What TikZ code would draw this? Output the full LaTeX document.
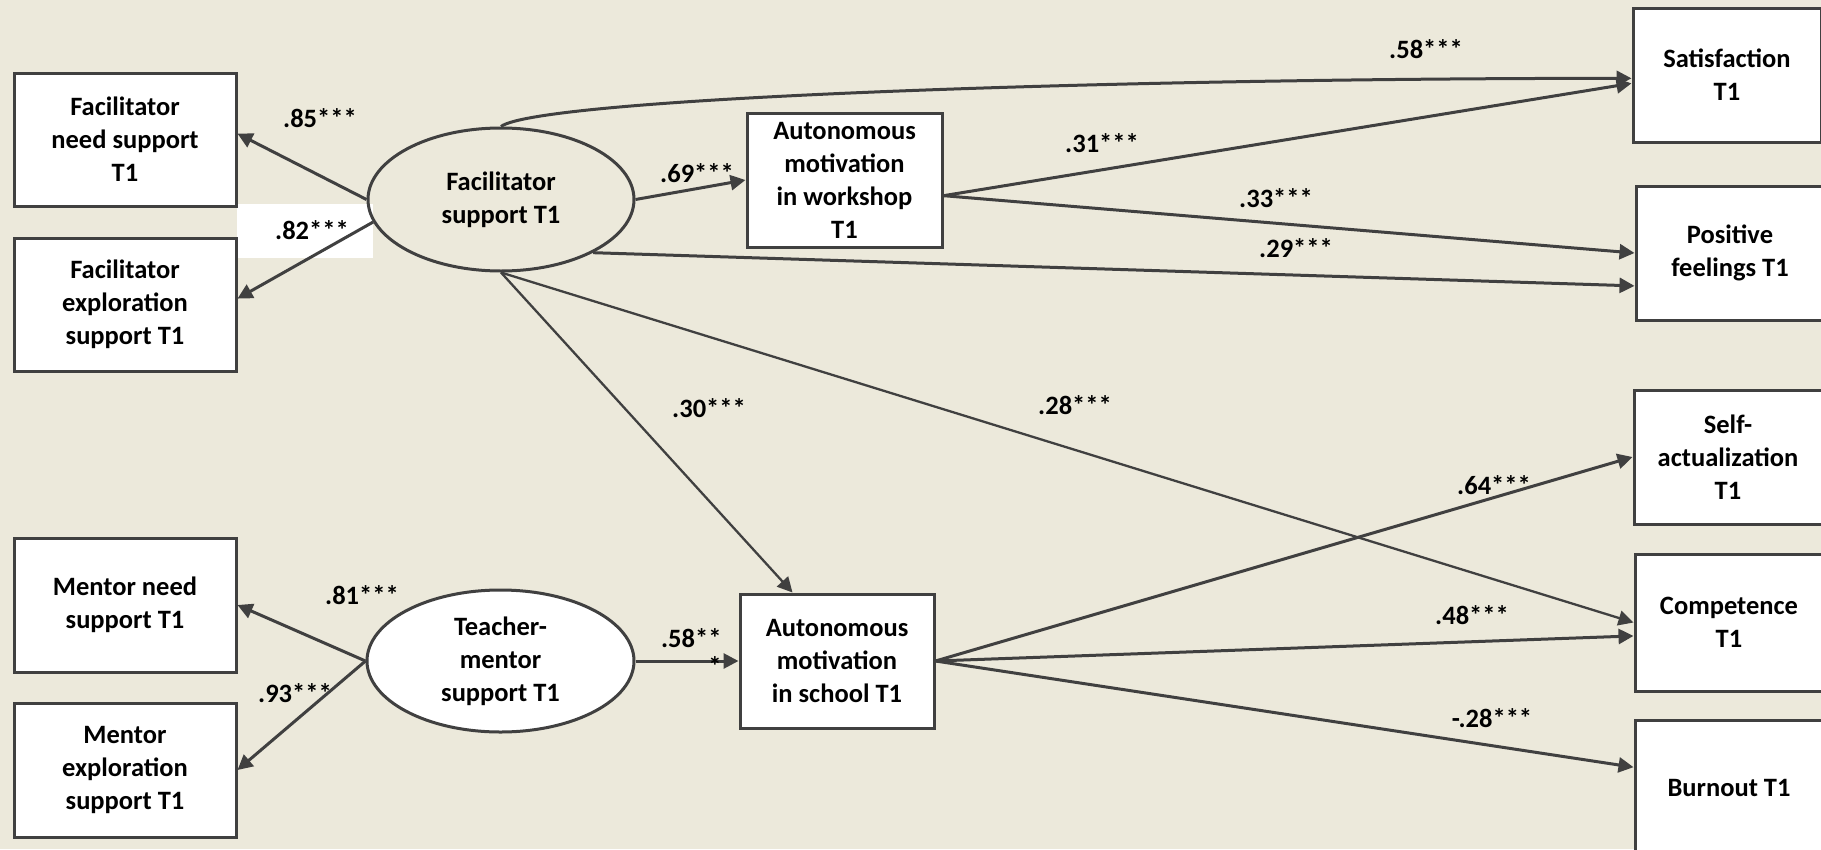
\documentclass[tikz,border=0pt]{standalone}
\usepackage{fontspec}
\setmainfont{Carlito}
\usetikzlibrary{arrows.meta,shapes.geometric}

\definecolor{bgbeige}{RGB}{236,233,219}
\definecolor{linegray}{RGB}{64,64,64}

\tikzset{every picture/.style={line width=3pt}}
\tikzset{
  txt/.style={font=\fontsize{26.5}{33}\selectfont\bfseries, align=center},
  obsbox/.style={txt, draw=linegray, fill=white, line width=3pt, inner sep=0pt},
  leftbox/.style={obsbox, minimum width=222, minimum height=133},
  midbox/.style={obsbox, minimum width=195, minimum height=134},
  rightbox/.style={obsbox, minimum width=188, minimum height=134},
  latent/.style={txt, draw=linegray, ellipse, line width=3pt, inner sep=0pt, minimum width=266, minimum height=143},
  path/.style={draw=linegray, line width=3pt, -{Triangle[length=15pt,width=15pt]}},
  paththin/.style={path, line width=2.3pt},
  coef/.style={font=\fontsize{26.5}{33}\selectfont\bfseries, inner sep=0pt}
}

\begin{document}
\begin{tikzpicture}[x=1pt,y=1pt,yscale=-1,xscale=1]
\useasboundingbox (0,0) rectangle (1821,849);
\fill[bgbeige] (0,0) rectangle (1821,849);

%Shape: Rectangle behind .82
\fill[white] (237,204) rectangle (373,258);

%Facilitator side
\node[leftbox] (fns) at (125,139.5) {Facilitator\\need support\\T1};
\node[leftbox] (fes) at (125,304.5) {Facilitator\\exploration\\support T1};
\node[latent] (fs) at (501,199.5) {Facilitator\\support T1};
\node[midbox] (ws) at (844.5,180) {Autonomous\\motivation\\in workshop\\T1};

%Mentor side
\node[leftbox, minimum height=134] (mns) at (125,605) {Mentor need\\support T1};
\node[leftbox, minimum height=134] (mes) at (125,770) {Mentor\\exploration\\support T1};
\node[latent, fill=white, minimum width=267, minimum height=142] (tm) at (500.5,661) {Teacher-\\mentor\\support T1};
\node[midbox, minimum width=194] (sc) at (837,661) {Autonomous\\motivation\\in school T1};

%Outcomes
\node[rightbox] (sat) at (1727,75) {Satisfaction\\T1};
\node[rightbox] (pos) at (1730,253) {Positive\\feelings T1};
\node[rightbox] (sa) at (1728,457) {Self-\\actualization\\T1};
\node[rightbox, minimum height=137] (comp) at (1729,622.5) {Competence\\T1};
\node[rightbox, minimum height=135] (bo) at (1729,787.5) {Burnout T1};

%Straight Lines
\draw[path] (fs.west) -- (fns.3);
\draw[path] (fs.190) -- (fes.3);
\draw[path] (fs.east) -- (ws.west);
\draw[path] (fs.north) .. controls +(38,-28) and +(-540,0) .. (sat.182);
\draw[path] (ws.351) -- (sat.185);
\draw[path] (ws.351) -- (pos.west);
\draw[path] (fs.330) -- (pos.199);
\draw[paththin] (fs.south) -- (sc.123);
\draw[paththin] (fs.south) -- (comp.west);
\draw[path] (sc.east) -- (sa.west);
\draw[path] (sc.east) -- (comp.188);
\draw[path] (sc.east) -- (bo.168);
\draw[path] (tm.east) -- (sc.west);
\draw[path] (tm.west) -- (mns.east);
\draw[path] (tm.west) -- (mes.east);

% Text Node
\node[coef] (c85) at (320,118) {.85***};
\node[coef] (c82) at (312,230) {.82***};
\node[coef] (c69) at (697,173) {.69***};
\node[coef] (c58s) at (1426,49) {.58***};
\node[coef] (c31) at (1102,143) {.31***};
\node[coef] (c33) at (1276,198) {.33***};
\node[coef] (c29) at (1296,248) {.29***};
\node[coef] (c30) at (709,408) {.30***};
\node[coef] (c28) at (1075,405) {.28***};
\node[coef] (c64) at (1494,485) {.64***};
\node[coef] (c48) at (1472,615) {.48***};
\node[coef] (cm28) at (1492,718) {-.28***};
\node[coef] (c81) at (362,595) {.81***};
\node[coef] (c93) at (295,693) {.93***};
\node[coef, align=right, anchor=east] (c58m) at (723,652) {.58**\\[-5pt]*};

\end{tikzpicture}
\end{document}
